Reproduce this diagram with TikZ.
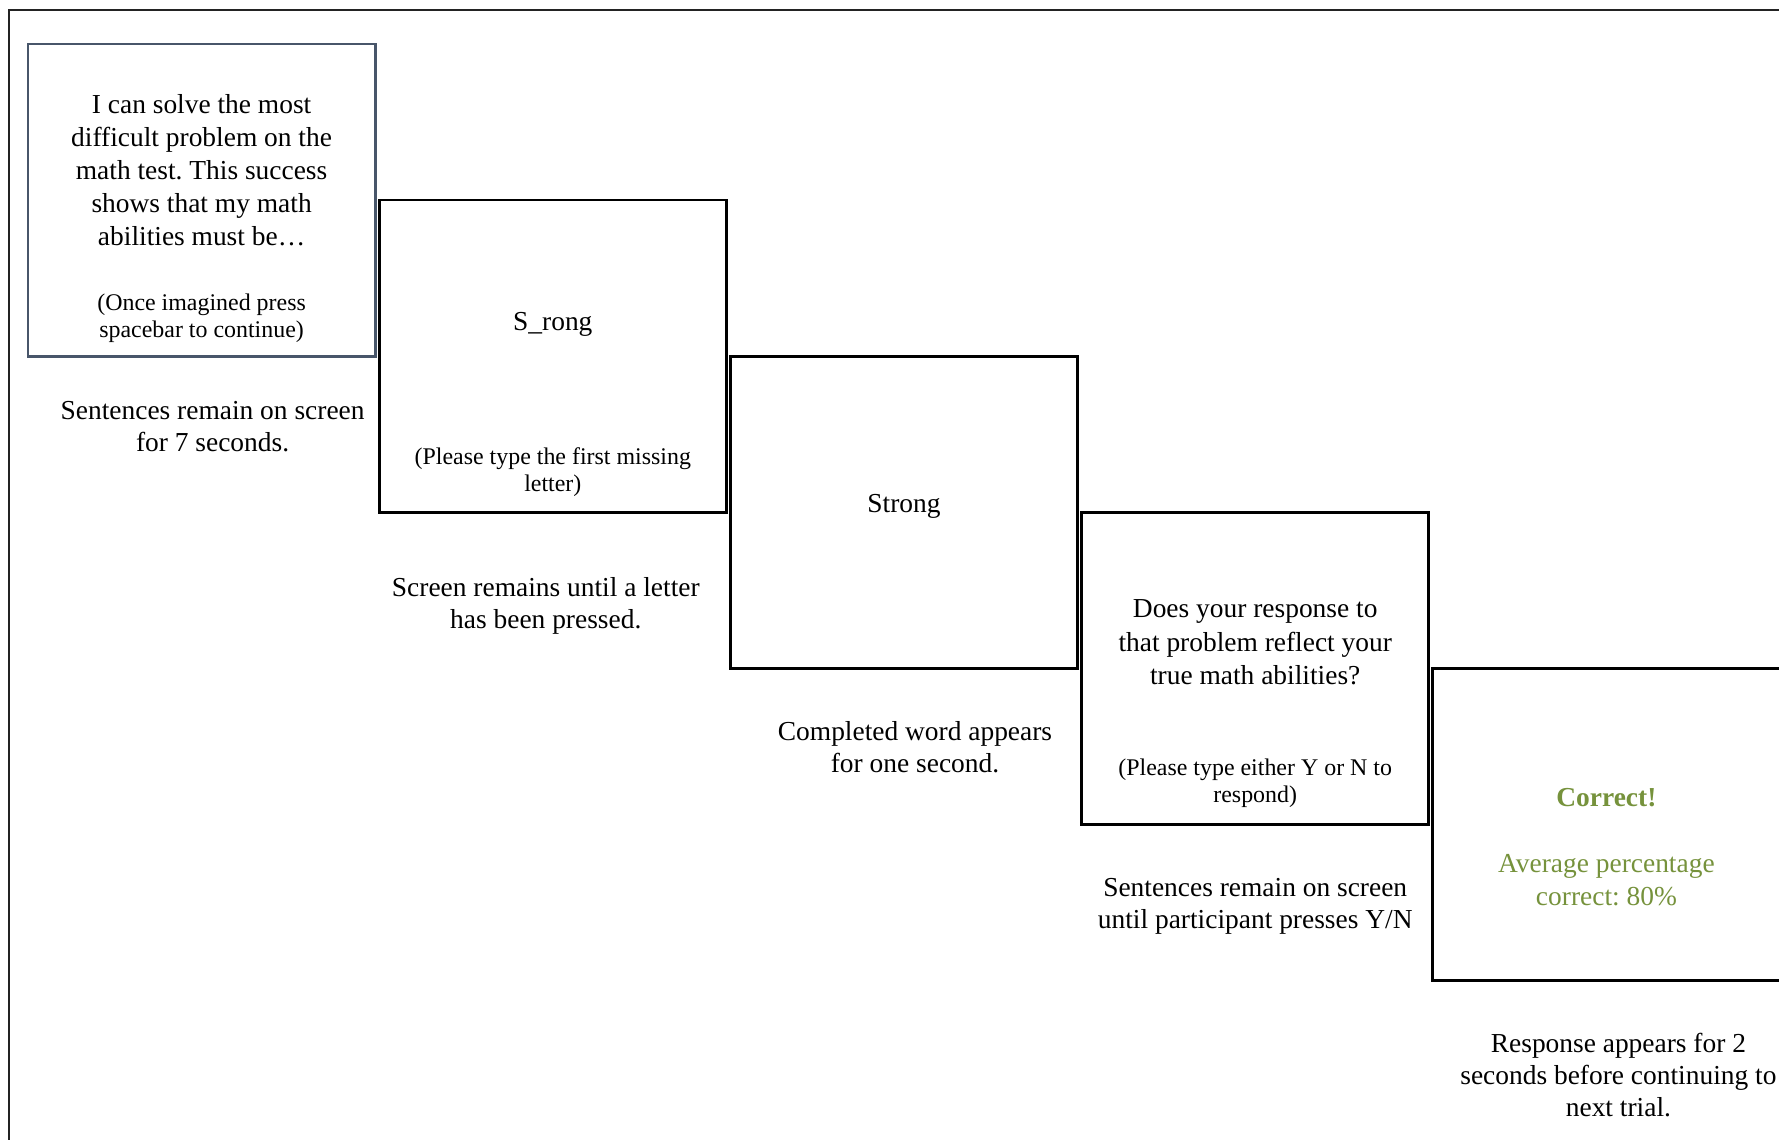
\documentclass[tikz,border=0pt]{standalone}
\usepackage{fontspec}
\setmainfont{Liberation Serif}
\usetikzlibrary{positioning}
\frenchspacing

\definecolor{framegray}{RGB}{35,35,35}
\definecolor{slateline}{RGB}{72,86,106}
\definecolor{olivegreen}{RGB}{118,146,60}

\begin{document}
\begin{tikzpicture}[
        x=0.01cm, y=-0.01cm,
        screen/.style={rectangle, draw=black, line width=0.8pt, minimum width=3.47cm, minimum height=3.12cm, inner sep=0pt, outer sep=0pt},
        firstscreen/.style={screen, draw=slateline},
        prompt/.style={align=center, inner sep=0pt, font=\fontsize{7.8}{9.4}\selectfont},
        note/.style={align=center, inner sep=0pt, font=\fontsize{6.8}{7.7}\selectfont},
        caption/.style={align=center, inner sep=0pt, font=\fontsize{7.8}{9.1}\selectfont},
        feedback/.style={prompt, text=olivegreen}
    ]
        \useasboundingbox (0,0) rectangle (1779,1140);
        \clip (0,0) rectangle (1779,1140);

        % Outer frame
        \draw[framegray, line width=0.6pt] (9,1200) |- (1850,10);

        % Screens
        \node[firstscreen, anchor=north west] (s1) at (28,44) {};
        \node[screen, below right=1.56cm and 0.04cm of s1.north east] (s2) {};
        \node[screen, below right=1.56cm and 0.04cm of s2.north east] (s3) {};
        \node[screen, below right=1.56cm and 0.04cm of s3.north east] (s4) {};
        \node[screen, below right=1.56cm and 0.04cm of s4.north east] (s5) {};

        % Screen contents
        \node[prompt, below=0.50cm of s1.north] (sentence) {I can solve the most\\difficult problem on the\\math test. This success\\shows that my math\\abilities must be\ldots};
        \node[note, above=0.13cm of s1.south] (spacenote) {(Once imagined press\\spacebar to continue)};
        \node[prompt, above=0.19cm of s2.center] (fragment) {S\_rong};
        \node[note, above=0.15cm of s2.south] (letternote) {(Please type the first missing\\letter)};
        \node[prompt, yshift=0.06cm] (word) at (s3.center) {Strong};
        \node[prompt, below=0.87cm of s4.north] (question) {Does your response to\\that problem reflect your\\true math abilities?};
        \node[note, above=0.16cm of s4.south] (ynnote) {(Please type either Y or N to\\respond)};
        \node[feedback, below=1.19cm of s5.north] (correct) {\textbf{Correct!}\\[9.4pt]Average percentage\\correct: 80\%};

        % Timing captions
        \node[caption, below=0.44cm of s1.south, xshift=0.11cm] (t1) {Sentences remain on screen\\for 7 seconds.};
        \node[caption, below=0.64cm of s2.south, xshift=-0.07cm] (t2) {Screen remains until a letter\\has been pressed.};
        \node[caption, below=0.52cm of s3.south, xshift=0.11cm] (t3) {Completed word appears\\for one second.};
        \node[caption, below=0.53cm of s4.south] (t4) {Sentences remain on screen\\until participant presses Y/N};
        \node[caption, below=0.52cm of s5.south, xshift=0.12cm] (t5) {Response appears for 2\\seconds before continuing to\\next trial.};
    \end{tikzpicture}
\end{document}
